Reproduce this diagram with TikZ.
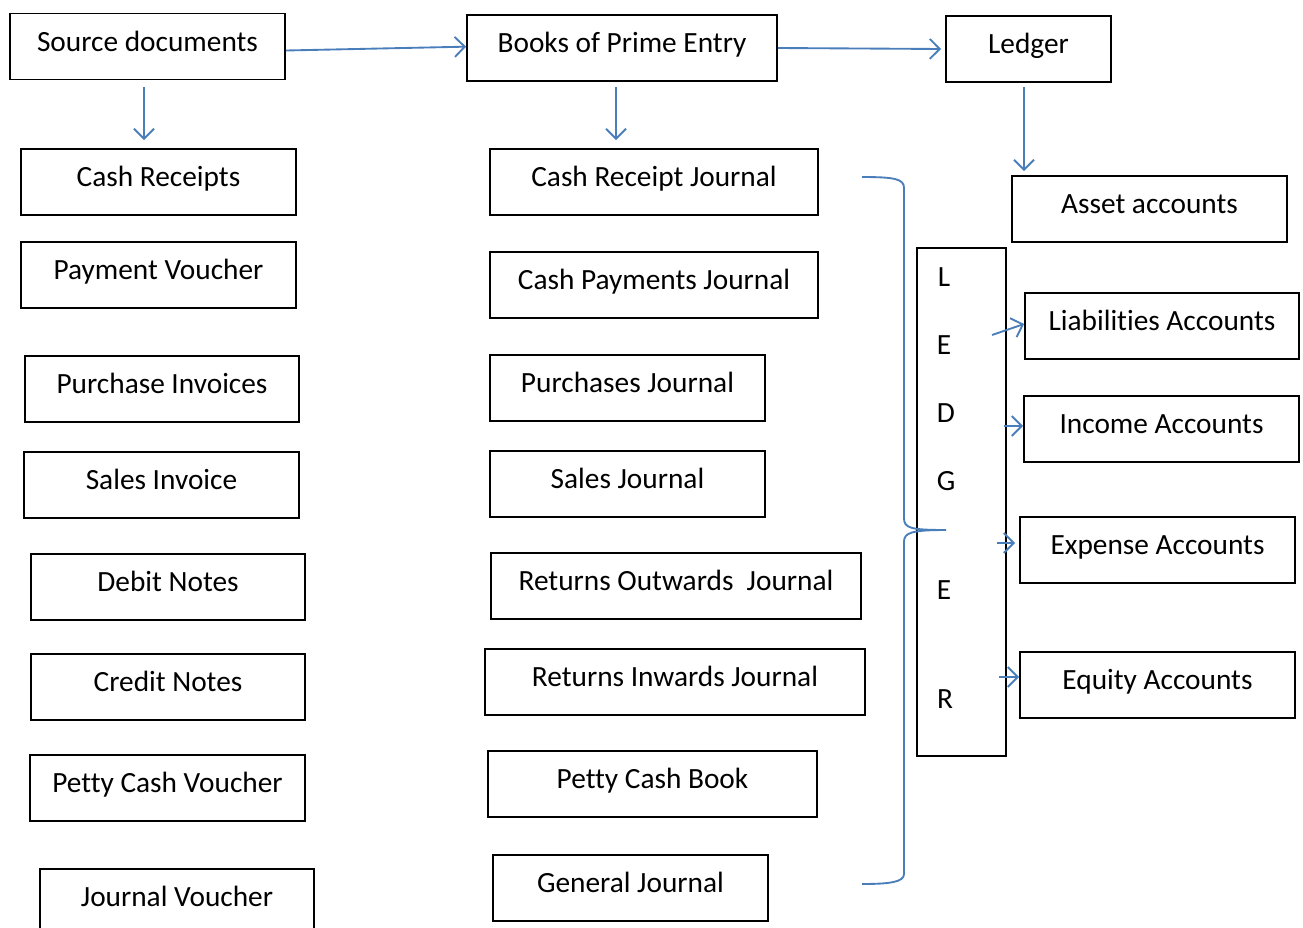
\documentclass[tikz,border=0pt]{standalone}
\usepackage{fontspec}
\setmainfont{Carlito}[Ligatures=NoCommon]
\usetikzlibrary{arrows.meta, positioning}
\definecolor{arrowblue}{HTML}{4A7EBB}

\begin{document}
\begin{tikzpicture}[x=0.75pt, y=-0.75pt,
		box/.style={draw, line width=1.4pt, minimum height=49.5pt, inner sep=0pt, text height=0.75em, text depth=0.05em, font=\fontsize{22}{26}\selectfont},
		letter/.style={inner sep=0pt, font=\fontsize{22}{26}\selectfont},
		flow/.style={draw=arrowblue, line width=1.4pt, -{Straight Barb[length=7.5pt, width=15pt, line width=1.4pt]}}]
		\useasboundingbox (0,0) rectangle (1303,928);
		% top row
		\draw (147.5,46.5) node[box, minimum width=206.25pt] (src){Source documents}
		(622,48) node[box, minimum width=232.5pt] (books){Books of Prime Entry}
		(1028.5,49) node[box, minimum width=123.75pt] (ledger){Ledger};
		% source documents
		\draw (158.5,182) node[box, minimum width=206.25pt] (cashrec){Cash Receipts}
		(158.5,275) node[box, minimum width=206.25pt] (payv){Payment Voucher}
		(162,389) node[box, minimum width=205.5pt] (purinv){Purchase Invoices}
		(161.5,485) node[box, minimum width=206.25pt] (salesinv){Sales Invoice}
		(168,587) node[box, minimum width=205.5pt] (debit){Debit Notes}
		(168,687) node[box, minimum width=205.5pt] (credit){Credit Notes}
		(167.5,788) node[box, minimum width=206.25pt] (pettyv){Petty Cash Voucher}
		(177,902) node[box, minimum width=205.5pt] (jv){Journal Voucher};
		% books of prime entry
		\draw (654,182) node[box, minimum width=246pt] (crj){Cash Receipt Journal}
		(654,285) node[box, minimum width=246pt] (cpj){Cash Payments Journal}
		(627.5,388) node[box, minimum width=206.25pt] (pj){Purchases Journal}
		(627.5,484) node[box, minimum width=206.25pt] (sj){Sales Journal}
		(676,586) node[box, minimum width=277.5pt] (roj){Returns Outwards\ \ Journal}
		(675,682) node[box, minimum width=285pt] (rij){Returns Inwards Journal}
		(652.5,784) node[box, minimum width=246.75pt] (pcb){Petty Cash Book}
		(630.5,888) node[box, minimum width=206.25pt] (gj){General Journal};
		% ledger accounts
		\draw (1149.5,209) node[box, minimum width=206.25pt] (asset){Asset accounts}
		(961.5,502) node[box, minimum width=66.75pt, minimum height=381pt] (ledbox){}
		(1162,326) node[box, minimum width=205.5pt] (liab){Liabilities Accounts}
		(1161.5,429) node[box, minimum width=206.25pt] (income){Income Accounts}
		(1157.5,550) node[box, minimum width=206.25pt] (expense){Expense Accounts}
		(1157.5,685) node[box, minimum width=206.25pt] (equity){Equity Accounts};
		\draw (944,277) node[letter] (lL){L}
		(944,345) node[letter] (lEa){E}
		(946,413) node[letter] (lD){D}
		(946,481) node[letter] (lG){G}
		(944,590) node[letter] (lEb){E}
		(945,699) node[letter] (lR){R};
		
		\coordinate (srcdown) at (144,87);
		\coordinate (booksdown) at (616,87);
		\coordinate (ledgerdown) at (1024,87);
		\coordinate (toliab) at (992,335);
		\coordinate (toincome) at (1004,426);
		\coordinate (toexpense) at (997,543);
		\coordinate (toequity) at (999,677);
		
		\draw[flow] (src.east) ++(0,4) -- ([yshift=1pt]books.west);
		\draw[flow] (books.east) -- ([xshift=-3pt]ledger.west);
		\draw[flow] (srcdown) -- ([yshift=6pt]cashrec.north -| srcdown);
		\draw[flow] (booksdown) -- ([yshift=6pt]crj.north -| booksdown);
		\draw[flow] (ledgerdown) -- ([yshift=3pt]asset.north -| ledgerdown);
		\draw[flow] (toliab) -- ([yshift=1.5pt]liab.west);
		\draw[flow] (toincome) -- (income.west |- toincome);
		\draw[flow] (toexpense) -- ([xshift=-3pt]expense.west |- toexpense);
		\draw[flow] (toequity) -- (equity.west |- toequity);
		
		% brace
		\draw[arrowblue, line width=1.4pt] (862,177) .. controls (895,177) and (904,179) .. (904,188) -- (904,518)
		.. controls (904,528) and (910,530) .. (946,530)
		.. controls (910,530) and (904,533) .. (904,542) -- (904,874)
		.. controls (904,882) and (890,884) .. (862,884);
	\end{tikzpicture}
\end{document}
